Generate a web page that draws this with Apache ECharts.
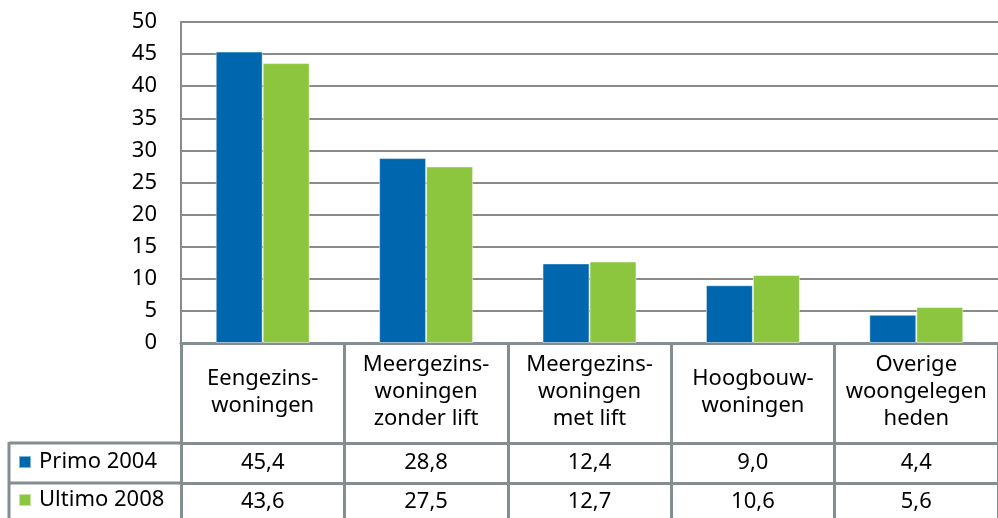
<!DOCTYPE html>
<html>
  <head>
    <meta charset="utf-8">
    <title>Woningtypen</title>
    <script src="https://cdn.jsdelivr.net/npm/echarts@6/dist/echarts.min.js"></script>
  </head>
  <body style="margin:0">
    <div id="main" style="width: 998px;height:518px;"></div>
    <script type="text/javascript">
      // data
      var categories = ['Eengezins-\nwoningen', 'Meergezins-\nwoningen\nzonder lift', 'Meergezins-\nwoningen\nmet lift', 'Hoogbouw-\nwoningen', 'Overige\nwoongelegen\nheden'];
      var seriesNames = ['Primo 2004', 'Ultimo 2008'];
      var primo = [45.4, 28.8, 12.4, 9.0, 4.4];
      var ultimo = [43.6, 27.5, 12.7, 10.6, 5.6];

      var fmt = function (v) { return v.toFixed(1).replace('.', ','); };
      var font = 'Noto Sans';
      var tableLine = '#848d90';

      var myChart = echarts.init(document.getElementById('main'));

      var rowAxis = function (vals, offset, margin) {
        return {
          type: 'category',
          position: 'bottom',
          offset: offset,
          data: vals.map(fmt),
          axisLine: { show: true, lineStyle: { color: tableLine, width: 3 } },
          axisTick: { show: false },
          axisLabel: {
            interval: 0, margin: margin, verticalAlign: 'middle',
            color: '#000', fontSize: 22, fontFamily: font
          }
        };
      };

      var option = {
        animation: false,
        legend: {
          orient: 'vertical',
          left: 18, top: 450, padding: 0,
          itemWidth: 12, itemHeight: 12, itemGap: 14,
          icon: 'rect',
          data: seriesNames,
          textStyle: { color: '#000', fontSize: 22, fontFamily: font, lineHeight: 24, padding: [0, 0, 0, 3] }
        },
        grid: { left: 181, width: 819, top: 22, bottom: 175 },
        xAxis: [{
          type: 'category',
          data: categories,
          axisLine: { show: true, lineStyle: { color: tableLine, width: 3 } },
          axisTick: { show: true, length: 180, lineStyle: { color: tableLine, width: 3 } },
          axisLabel: {
            interval: 0, margin: 49, verticalAlign: 'middle', lineHeight: 27,
            color: '#000', fontSize: 22, fontFamily: font
          }
        },
        rowAxis(primo, 100, 20),
        rowAxis(ultimo, 140, 19)],
        yAxis: {
          type: 'value', min: 0, max: 50, interval: 5,
          axisLine: { show: true, lineStyle: { color: '#8a8a8a', width: 2 } },
          splitLine: { lineStyle: { color: '#8a8a8a', width: 2 } },
          axisLabel: { color: '#000', fontSize: 22, fontFamily: font, margin: 24 }
        },
        graphic: [
          { type: 'line', shape: { x1: 9, y1: 443, x2: 181, y2: 443 }, style: { stroke: tableLine, lineWidth: 3 } },
          { type: 'line', shape: { x1: 9, y1: 483, x2: 181, y2: 483 }, style: { stroke: tableLine, lineWidth: 3 } },
          { type: 'line', shape: { x1: 9, y1: 442, x2: 9, y2: 520 }, style: { stroke: tableLine, lineWidth: 3 } }
        ],
        series: [{
          name: seriesNames[0], type: 'bar', data: primo,
          barWidth: 47, barGap: '0%',
          itemStyle: { color: '#0066ad', borderColor: 'rgba(255,255,255,0.5)', borderWidth: 1 }
        }, {
          name: seriesNames[1], type: 'bar', data: ultimo,
          barWidth: 47, barGap: '0%',
          itemStyle: { color: '#8cc63f', borderColor: 'rgba(255,255,255,0.5)', borderWidth: 1 }
        }]
      };

      myChart.setOption(option);
    </script>
  </body>
</html>
